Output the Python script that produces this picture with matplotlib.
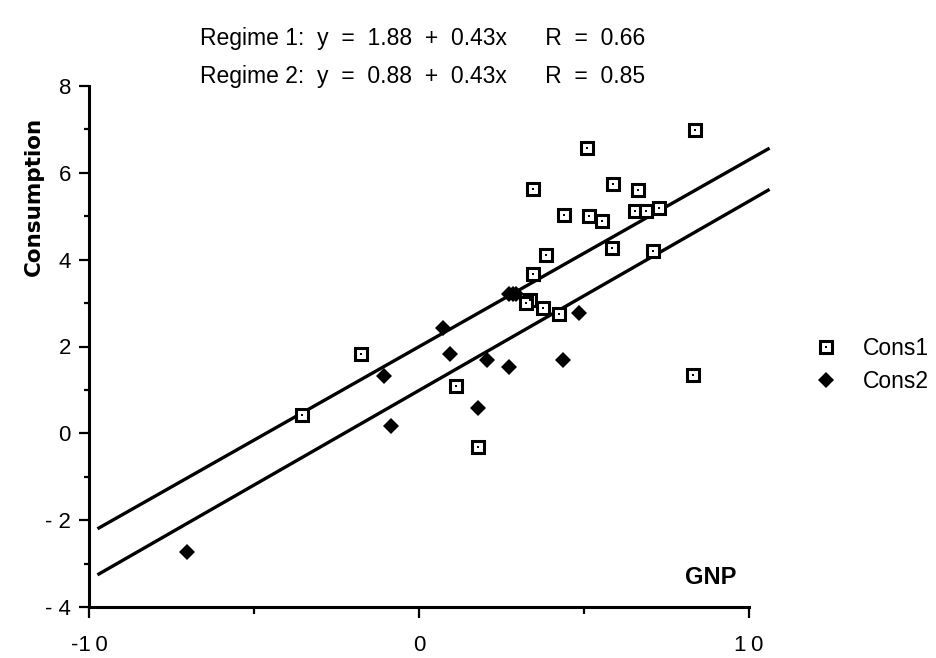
import matplotlib
matplotlib.use('Agg')
import matplotlib.pyplot as plt
from matplotlib.ticker import FixedLocator

plt.rcParams['font.family'] = ['Liberation Sans', 'DejaVu Sans']

# Cons1 (open squares)
cons1_gnp = [8.36, 5.10, 3.46, 5.87, 6.64, 4.40, 5.16, 5.55, 6.55, 6.88, 7.28, 5.86,
             7.10, 3.85, 3.46, 3.36, 3.25, 3.77, 4.23, 8.31, 1.11, 1.80, -1.77, -3.55]
cons1_val = [6.98, 6.58, 5.62, 5.74, 5.61, 5.02, 5.01, 4.90, 5.13, 5.13, 5.20, 4.27,
             4.21, 4.10, 3.68, 3.07, 3.00, 2.89, 2.76, 1.35, 1.08, -0.31, 1.82, 0.42]

# Cons2 (filled diamonds)
cons2_gnp = [-7.02, -1.05, -0.85, 0.72, 0.94, 1.80, 2.05, 2.74, 2.72, 2.85, 2.95, 4.37, 4.85]
cons2_val = [-2.73, 1.33, 0.16, 2.43, 1.82, 0.58, 1.68, 1.52, 3.21, 3.21, 3.21, 1.69, 2.77]

# regression lines, end points
line_x = [-9.7, 10.58]
regime1_y = [-2.18, 6.55]
regime2_y = [-3.24, 5.60]

title1 = "Regime 1:  y  =  1.88  +  0.43x      R  =  0.66"
title2 = "Regime 2:  y  =  0.88  +  0.43x      R  =  0.85"

fig = plt.figure(figsize=(9.36, 6.58), dpi=100)
ax = fig.add_axes([89/936, 1-607/658, 660/936, 521/658])

ax.plot(line_x, regime1_y, color='black', lw=2.4, clip_on=False, zorder=2)
ax.plot(line_x, regime2_y, color='black', lw=2.4, clip_on=False, zorder=2)

sq, = ax.plot(cons1_gnp, cons1_val, 's', ms=8.5, mfc='white', mec='black', mew=2.2,
              linestyle='none', zorder=3, clip_on=False)
dot, = ax.plot(cons1_gnp, cons1_val, 's', ms=1.9, mfc='black', mec='black', mew=0,
               linestyle='none', zorder=4, clip_on=False)
dia, = ax.plot(cons2_gnp, cons2_val, 'D', ms=8.5, mfc='black', mec='black', mew=0,
               linestyle='none', zorder=5, clip_on=False)

ax.set_xlim(-10, 10)
ax.set_ylim(-4, 8)

for s in ['top', 'right']:
    ax.spines[s].set_visible(False)
for s in ['left', 'bottom']:
    ax.spines[s].set_linewidth(2.2)

ax.xaxis.set_major_locator(FixedLocator([-10, 0, 10]))
ax.xaxis.set_minor_locator(FixedLocator([-5, 5]))
ax.set_xticklabels(['-1\u20090', '0', '1\u20090'])
ax.yaxis.set_major_locator(FixedLocator([-4, -2, 0, 2, 4, 6, 8]))
ax.yaxis.set_minor_locator(FixedLocator([-3, -1, 1, 3, 5, 7]))
ax.set_yticklabels(['- 4', '- 2', '0', '2', '4', '6', '8'])

ax.tick_params(axis='x', which='major', length=8, width=1.6, pad=12, labelsize=16)
ax.tick_params(axis='x', which='minor', length=5, width=1.6)
ax.tick_params(axis='y', which='major', length=7, width=1.6, pad=6, labelsize=16)
ax.tick_params(axis='y', which='minor', length=3.5, width=1.6)

fig.text(34/936, 1-196/658, 'Consumption', rotation=90, ha='center', va='center',
         fontsize=15.5, fontweight='bold', family=['DejaVu Sans'])
ax.text(0.942, 0.056, 'GNP', transform=ax.transAxes, ha='center', va='center',
        fontsize=17, fontweight='bold')

fig.text(200/936, 1-45/658, title1, ha='left', va='baseline', fontsize=16.5)
fig.text(200/936, 1-83/658, title2, ha='left', va='baseline', fontsize=16.5)

ax.legend([(sq, dot), dia], ['Cons1', 'Cons2'], loc='center left',
          bbox_to_anchor=(815/936, 1-365/658), bbox_transform=fig.transFigure,
          frameon=False, fontsize=16.5, handlelength=1.0, handletextpad=1.1,
          labelspacing=0.45, borderpad=0, borderaxespad=0)

fig.savefig('out.png', dpi=100)
